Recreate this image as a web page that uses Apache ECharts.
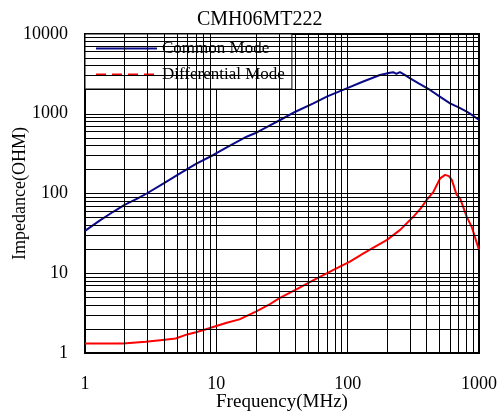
<!DOCTYPE html>
<html>
<head>
<meta charset="utf-8">
<script src="https://cdn.jsdelivr.net/npm/echarts@6/dist/echarts.min.js"></script>
<style>html,body{margin:0;padding:0;background:#fff;}#c{width:499px;height:412px;}</style>
</head>
<body>
<div id="c"></div>
<script>
const titleText = 'CMH06MT222';
const xName = 'Frequency(MHz)';
const yName = 'Impedance(OHM)';
const seriesNames = ['Common Mode', 'Differential Mode'];

const cmFreq = [1, 1.3, 1.64, 2, 2.5, 2.95, 4, 5.29, 7, 9.49, 12, 17, 19.7, 25, 30.6, 40, 54.8, 70, 98.3, 130, 176, 210, 222, 235, 250, 258, 270, 299, 350, 424, 500, 602, 700, 807, 900, 1000];
const cmImp  = [34, 46, 59, 72, 86, 100, 135, 179, 235, 304, 380, 515, 569, 700, 835, 1060, 1352, 1650, 2085, 2520, 3060, 3270, 3320, 3170, 3330, 3300, 3100, 2782, 2380, 1986, 1650, 1352, 1200, 1061, 950, 835];

const dmFreq = [1, 1.95, 2.0, 2.9, 3.0, 3.9, 4.0, 4.9, 5.0, 6, 7, 8, 10, 12, 15, 20, 25, 30, 40, 55, 78, 104, 130, 157, 198, 251, 316, 360, 400, 450, 506, 552, 590, 621, 676, 718, 807, 881, 1000];
const dmImp  = [1.32, 1.32, 1.37, 1.38, 1.44, 1.46, 1.5, 1.52, 1.55, 1.71, 1.82, 1.94, 2.18, 2.4, 2.64, 3.3, 4.0, 4.85, 6.2, 8.2, 11, 14, 17.5, 21, 26, 35, 51, 65, 83, 105, 155, 171, 165, 148, 96, 87, 51, 38, 19.6];

const xMinorGrid = [2,3,4,5,6,7,8,9,20,30,40,50,60,70,80,90,200,300,400,500,600,700,800,900];
const yMinorGrid = [2,3,4,5,6,7,8,9,20,30,40,50,60,70,80,90,200,300,400,500,600,700,800,900,2000,3000,4000,5000,6000,7000,8000,9000];

const serif = 'Liberation Serif';
const chart = echarts.init(document.getElementById('c'), null, {renderer: 'canvas'});
const pair = (xs, ys) => xs.map((x, i) => [x, ys[i]]);
const fmt = v => String(Math.round(v));

const gridLineStyle = {color: '#000', width: 1, type: 'solid'};
const markData = xMinorGrid.map(v => ({xAxis: v})).concat(yMinorGrid.map(v => ({yAxis: v})));
const hiddenSymbol = {color: 'transparent', borderWidth: 0, opacity: 0};

chart.setOption({
  animation: false,
  title: {
    text: titleText, left: 192, top: 5,
    textStyle: {fontFamily: serif, fontSize: 20, fontWeight: 'normal', color: '#000'}
  },
  legend: {
    data: [
      {name: seriesNames[0], itemStyle: hiddenSymbol},
      {name: seriesNames[1], itemStyle: hiddenSymbol, lineStyle: {type: [10, 6], width: 2, color: '#ff0000'}}
    ],
    orient: 'vertical', left: 85, top: 34,
    padding: [6, 7, 6, 10], itemGap: 9, itemWidth: 61, itemHeight: 14,
    backgroundColor: '#fff', borderColor: '#000', borderWidth: 1,
    itemStyle: hiddenSymbol,
    textStyle: {fontFamily: serif, fontSize: 17, color: '#000'},
    selectedMode: false
  },
  grid: {left: 85, right: 20, top: 34, bottom: 59, containLabel: false, outerBoundsMode: 'none',
    show: true, borderColor: '#000', borderWidth: 2, backgroundColor: 'transparent'},
  xAxis: {
    type: 'log', logBase: 10, min: 1, max: 1000,
    name: xName, nameLocation: 'middle', nameGap: 40, nameMoveOverlap: false,
    nameTextStyle: {fontFamily: serif, fontSize: 19, color: '#000'},
    axisLine: {show: true, lineStyle: {color: '#000', width: 2}},
    axisTick: {show: false},
    axisLabel: {formatter: fmt, fontFamily: serif, fontSize: 18, color: '#000', margin: 22, showMaxLabel: true, showMinLabel: true},
    splitLine: {show: true, lineStyle: gridLineStyle}
  },
  yAxis: {
    type: 'log', logBase: 10, min: 1, max: 10000,
    name: yName, nameLocation: 'middle', nameGap: 56, nameRotate: 90, nameMoveOverlap: false,
    nameTextStyle: {fontFamily: serif, fontSize: 18, color: '#000'},
    axisLine: {show: true, lineStyle: {color: '#000', width: 2}},
    axisTick: {show: false},
    axisLabel: {formatter: fmt, fontFamily: serif, fontSize: 18, color: '#000', margin: 17},
    splitLine: {show: true, lineStyle: gridLineStyle}
  },
  series: [
    {
      name: 'grid', type: 'line', data: [[1, 1]], symbol: 'none', silent: true,
      lineStyle: {opacity: 0}, z: 1,
      markLine: {silent: true, symbol: ['none', 'none'], label: {show: false},
        lineStyle: gridLineStyle, emphasis: {disabled: true}, animation: false, data: markData}
    },
    {
      name: seriesNames[0], type: 'line', data: pair(cmFreq, cmImp), symbol: 'none', z: 3,
      lineStyle: {color: '#0a0a8a', width: 2}, itemStyle: {color: '#0a0a8a'}
    },
    {
      name: seriesNames[1], type: 'line', data: pair(dmFreq, dmImp), symbol: 'none', z: 3,
      lineStyle: {color: '#ff0000', width: 2}, itemStyle: {color: '#ff0000'}
    }
  ]
});
</script>
</body>
</html>
